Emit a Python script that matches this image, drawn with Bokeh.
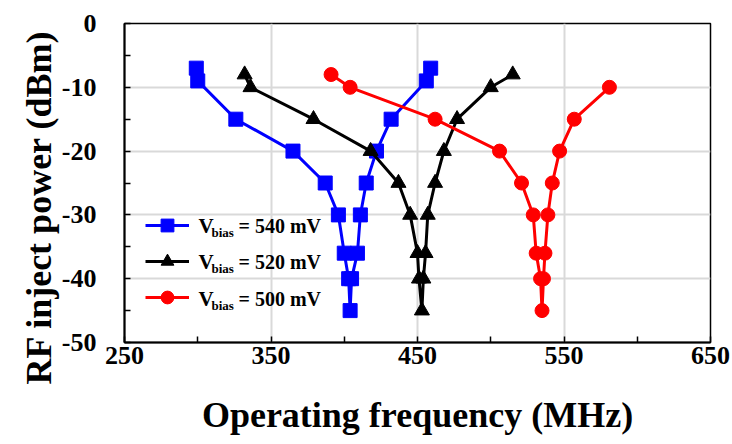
from bokeh.plotting import figure
from bokeh.models import FixedTicker, Legend, LegendItem, Label, Range1d, Title
from bokeh.embed import file_html
from bokeh.resources import INLINE

# ---- data ----
freq_540 = [299, 300, 326, 365, 387, 396, 400, 403, 404, 405, 409, 411, 415, 422, 432, 456, 459]
pow_540 = [-7, -9, -15, -20, -25, -30, -36, -40, -45, -40, -36, -30, -25, -20, -15, -9, -7]

freq_520 = [332, 336, 379, 418, 437, 445, 450, 451, 453, 454, 455.5, 457, 462, 468, 477, 500, 515]
pow_520 = [-8, -10, -15, -20, -25, -30, -36, -40, -45, -40, -36, -30, -25, -20, -15, -10, -8]

freq_500 = [391, 404, 462, 506, 521, 529, 531, 534, 535, 536, 537, 539, 542, 547, 557, 581]
pow_500 = [-8, -10, -15, -20, -25, -30, -36, -40, -45, -40, -36, -30, -25, -20, -15, -10]

series_labels = ["= 540 mV", "= 520 mV", "= 500 mV"]
x_ticks = [250, 350, 450, 550, 650]
x_minor = [300, 400, 500, 600]
y_ticks = [0, -10, -20, -30, -40, -50]
y_tick_labels = ["0", "-10", "-20", "-30", "-40", "-50"]
y_minor = [-5, -15, -25, -35, -45]

FONT = "Liberation Serif"

p = figure(width=732, height=444, output_backend="svg", toolbar_location=None,
           x_range=Range1d(250, 650), y_range=Range1d(-50, 0),
           frame_width=586, frame_height=319,
           min_border_left=124, min_border_right=22, min_border_top=23, min_border_bottom=102)

p.outline_line_color = "black"
p.outline_line_width = 1.5
p.background_fill_color = "white"
p.border_fill_color = "white"

for ax in (p.xaxis[0], p.yaxis[0]):
    ax.axis_line_color = "black"
    ax.axis_line_width = 2
    ax.major_tick_in = 6
    ax.major_tick_out = 0
    ax.minor_tick_in = 6
    ax.minor_tick_out = 0
    ax.major_tick_line_width = 1.5
    ax.minor_tick_line_width = 1.5
    ax.major_label_text_font = FONT
    ax.major_label_text_font_style = "bold"
    ax.major_label_text_font_size = "26px"
    ax.major_label_text_color = "black"
    ax.axis_label_text_font = FONT
    ax.axis_label_text_font_style = "bold"
    ax.axis_label_text_font_size = "36px"
    ax.axis_label_text_color = "black"

p.xaxis.ticker = FixedTicker(ticks=x_ticks, minor_ticks=x_minor)
p.yaxis.ticker = FixedTicker(ticks=y_ticks, minor_ticks=y_minor)
p.yaxis.major_label_overrides = dict(zip(y_ticks, y_tick_labels))
p.xaxis.axis_label = "Operating frequency (MHz)"
p.xaxis.major_label_standoff = 4
p.yaxis.major_label_standoff = 28
p.xaxis.axis_label_standoff = 28

# y-axis title as a side title, extending a bit below the frame like the reference
p.add_layout(Title(text="RF inject power (dBm)", align="left", offset=-42,
                   text_font=FONT, text_font_style="bold", text_font_size="36px",
                   text_color="black", standoff=0), "left")

p.xgrid.grid_line_color = "#d9d9d9"
p.ygrid.grid_line_color = "#d9d9d9"
p.xgrid.grid_line_width = 2
p.ygrid.grid_line_width = 2

r1l = p.line(freq_540, pow_540, line_color="#0000ff", line_width=3)
r1m = p.scatter(freq_540, pow_540, marker="square", size=14, fill_color="#0000ff", line_color="#0000ff")
r2l = p.line(freq_520, pow_520, line_color="black", line_width=3)
r2m = p.scatter(freq_520, pow_520, marker="triangle", size=15, fill_color="black", line_color="black")
r3l = p.line(freq_500, pow_500, line_color="#ff0000", line_width=3)
r3m = p.scatter(freq_500, pow_500, marker="circle", size=14, fill_color="#ff0000", line_color="#ff0000")

legend = Legend(items=[LegendItem(label=" ", renderers=[r1l, r1m]),
                       LegendItem(label=" ", renderers=[r2l, r2m]),
                       LegendItem(label=" ", renderers=[r3l, r3m])],
                location=(21, 29), padding=0, spacing=4, glyph_width=44, glyph_height=32,
                label_height=32, label_width=10, margin=0,
                border_line_alpha=0, background_fill_alpha=0)
p.add_layout(legend, "center")

# legend texts (screen units relative to frame)
row_y = [117, 81, 44]
for lab, yy in zip(series_labels, row_y):
    p.add_layout(Label(x=74, y=yy, x_units="screen", y_units="screen", text="V",
                       text_font=FONT, text_font_style="bold", text_font_size="21px",
                       text_baseline="middle", text_color="black"))
    p.add_layout(Label(x=87, y=yy - 7, x_units="screen", y_units="screen", text="bias",
                       text_font=FONT, text_font_style="bold", text_font_size="13px",
                       text_baseline="middle", text_color="black"))
    p.add_layout(Label(x=114, y=yy, x_units="screen", y_units="screen", text=lab,
                       text_font=FONT, text_font_style="bold", text_font_size="20px",
                       text_baseline="middle", text_color="black"))

open("out.html", "w").write(file_html(p, INLINE))
